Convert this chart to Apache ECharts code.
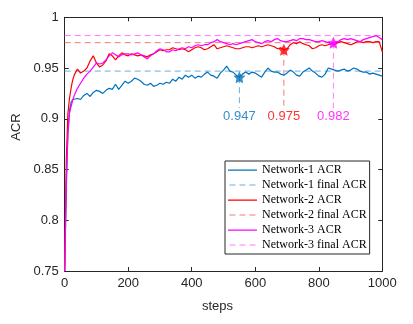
<!DOCTYPE html>
<html>
<head>
<meta charset="utf-8">
<script src="https://cdn.jsdelivr.net/npm/echarts@6/dist/echarts.min.js"></script>
<style>html,body{margin:0;padding:0;background:#fff}#c{width:413px;height:324px}</style>
</head>
<body>
<div id="c"></div>
<script>
var steps = [0,5,10,15,20,25,30,40,50,60,70,80,90,100,110,120,130,140,150,160,170,180,190,200,210,220,230,240,250,260,270,280,290,300,310,320,330,340,350,360,370,380,390,400,410,420,430,440,450,460,470,480,490,500,510,520,530,540,550,560,570,580,590,600,610,620,630,640,650,660,670,680,690,700,710,720,730,740,750,760,770,780,790,800,810,820,830,840,850,860,870,880,890,900,910,920,930,940,950,960,970,980,990,1000];
var net1 = [0.75,0.83,0.885,0.908,0.916,0.919,0.918,0.920,0.919,0.923,0.925,0.922,0.926,0.928,0.927,0.925,0.928,0.930,0.929,0.934,0.929,0.933,0.937,0.935,0.937,0.940,0.939,0.937,0.934,0.933,0.935,0.932,0.933,0.935,0.934,0.936,0.935,0.939,0.937,0.941,0.939,0.943,0.941,0.943,0.940,0.942,0.941,0.944,0.946,0.943,0.942,0.940,0.945,0.948,0.952,0.947,0.946,0.943,0.941,0.944,0.946,0.944,0.946,0.945,0.943,0.941,0.946,0.950,0.947,0.946,0.946,0.944,0.943,0.945,0.948,0.946,0.943,0.942,0.946,0.948,0.950,0.947,0.945,0.942,0.941,0.944,0.950,0.949,0.948,0.947,0.948,0.949,0.947,0.948,0.950,0.949,0.947,0.946,0.946,0.944,0.945,0.944,0.943,0.942];
var net2 = [0.75,0.86,0.905,0.92,0.93,0.938,0.943,0.949,0.945,0.947,0.950,0.957,0.962,0.955,0.951,0.953,0.957,0.964,0.962,0.958,0.962,0.965,0.963,0.962,0.964,0.963,0.962,0.963,0.962,0.961,0.963,0.964,0.966,0.968,0.967,0.968,0.968,0.970,0.969,0.968,0.969,0.968,0.966,0.968,0.970,0.971,0.970,0.968,0.969,0.971,0.973,0.969,0.970,0.971,0.972,0.971,0.970,0.969,0.969,0.970,0.971,0.971,0.970,0.971,0.972,0.971,0.972,0.973,0.972,0.971,0.969,0.970,0.968,0.969,0.973,0.975,0.974,0.976,0.974,0.973,0.972,0.969,0.970,0.972,0.973,0.972,0.973,0.974,0.973,0.975,0.976,0.975,0.974,0.973,0.974,0.976,0.976,0.975,0.976,0.976,0.975,0.976,0.976,0.966];
var net3 = [0.75,0.84,0.885,0.905,0.912,0.918,0.923,0.930,0.935,0.940,0.944,0.947,0.951,0.955,0.954,0.955,0.958,0.962,0.965,0.963,0.961,0.963,0.964,0.964,0.963,0.964,0.965,0.963,0.961,0.959,0.962,0.964,0.967,0.969,0.968,0.966,0.966,0.968,0.967,0.969,0.970,0.969,0.971,0.970,0.972,0.973,0.972,0.973,0.973,0.975,0.976,0.978,0.976,0.975,0.974,0.973,0.974,0.973,0.974,0.975,0.976,0.977,0.978,0.976,0.975,0.974,0.976,0.977,0.976,0.978,0.979,0.977,0.976,0.976,0.977,0.978,0.977,0.979,0.979,0.978,0.978,0.977,0.976,0.976,0.977,0.976,0.975,0.974,0.975,0.976,0.978,0.979,0.978,0.979,0.978,0.977,0.976,0.978,0.979,0.980,0.981,0.982,0.980,0.978];
var finalACR = [0.947, 0.975, 0.982];
var markerSteps = [550, 690, 846];
var markerValues = [0.941, 0.968, 0.975];
var labelTexts = ['0.947', '0.975', '0.982'];
var dropEnd = 0.9105;
var labelY = 0.9025;
var names = ['Network-1 ACR','Network-1 final ACR','Network-2 ACR','Network-2 final ACR','Network-3 ACR','Network-3 final ACR'];
var xTicks = [0, 200, 400, 600, 800, 1000];
var yTicks = [0.75, 0.8, 0.85, 0.9, 0.95, 1];

var mainColors = ['#0072BD', '#FF0000', '#FF00FF'];
var lightColors = ['#6AAFE0', '#F07A7A', '#FF7BFF'];
var star = 'path://M0,-10 L2.9,-4 9.5,-3.1 4.7,1.6 5.9,8.1 0,5.1 -5.9,8.1 -4.7,1.6 -9.5,-3.1 -2.9,-4Z';
var solidIcon = 'path://M0,0h0.01v0.01h-0.01z M0,5.4h29v1.3h-29z M0,12h0.01v0.01h-0.01z';
var dashIcon = 'path://M0,0h0.01v0.01h-0.01z M0,5.5h6v1h-6z M10,5.5h6v1h-6z M20,5.5h6v1h-6z M0,12h0.01v0.01h-0.01z';
var nets = [net1, net2, net3];

function pairs(xs, ys){ return xs.map(function(x,i){ return [x, ys[i]]; }); }

var series = [];
var legendData = [];
for (var k = 0; k < 3; k++) {
  series.push({
    name: names[2*k], type: 'line', data: pairs(steps, nets[k]),
    showSymbol: false, symbol: 'none', lineStyle: {color: mainColors[k], width: 1.2},
    itemStyle: {color: mainColors[k]}, z: 3 + k
  });
  series.push({
    name: names[2*k+1], type: 'line', data: [[xTicks[0], finalACR[k]], [xTicks[xTicks.length-1], finalACR[k]]],
    showSymbol: false, symbol: 'none', lineStyle: {color: lightColors[k], width: 1, type: [6, 4]},
    itemStyle: {color: lightColors[k]}, z: 2
  });
  legendData.push({name: names[2*k], icon: solidIcon});
  legendData.push({name: names[2*k+1], icon: dashIcon});
}
for (var k = 0; k < 3; k++) {
  series.push({
    type: 'line', data: [[markerSteps[k], markerValues[k]], [markerSteps[k], dropEnd]],
    showSymbol: false, symbol: 'none', lineStyle: {color: lightColors[k], width: 1, type: [6, 4]}, z: 2, silent: true
  });
  series.push({
    type: 'scatter', data: [[markerSteps[k], markerValues[k]]], symbol: star, symbolSize: 12,
    itemStyle: {color: mainColors[k]}, z: 10
  });
  series.push({
    type: 'scatter', data: [[markerSteps[k], labelY]], symbolSize: 0,
    label: {show: true, position: 'inside', formatter: labelTexts[k], color: mainColors[k],
      fontFamily: 'Liberation Sans', fontSize: 13}, z: 10
  });
}

var axisCol = '#262626';
var chart = echarts.init(document.getElementById('c'), null, {renderer: 'canvas'});
chart.setOption({
  animation: false,
  backgroundColor: '#fff',
  grid: {left: 64.7, right: 30.7, top: 17.3, bottom: 53, containLabel: false},
  legend: {
    data: legendData, orient: 'vertical', left: 225, top: 161,
    padding: [3, 3, 3, 3], itemGap: 3, itemWidth: 29, itemHeight: 12,
    backgroundColor: '#fff', borderColor: axisCol, borderWidth: 1,
    textStyle: {fontFamily: 'Liberation Serif', fontSize: 12, color: '#000'}
  },
  xAxis: [{
    type: 'value', min: 0, max: 1000, interval: 200, name: 'steps',
    nameLocation: 'middle', nameGap: 29,
    nameTextStyle: {fontFamily: 'Liberation Sans', fontSize: 13, color: axisCol, padding: [0, 12, 0, 0]},
    axisLine: {show: true, lineStyle: {color: axisCol, width: 1}},
    axisTick: {show: true, inside: true, length: 4, lineStyle: {color: axisCol}},
    axisLabel: {fontFamily: 'Liberation Sans', fontSize: 13, color: axisCol, margin: 6,
      formatter: function(v){ return String(v); }},
    splitLine: {show: false}
  }, {
    type: 'value', min: 0, max: 1000, interval: 200, position: 'top',
    axisLine: {show: true, onZero: false, lineStyle: {color: axisCol, width: 1}},
    axisTick: {show: true, inside: true, length: 4, lineStyle: {color: axisCol}},
    axisLabel: {show: false}, splitLine: {show: false}
  }],
  yAxis: [{
    type: 'value', min: 0.75, max: 1, interval: 0.05, name: 'ACR',
    nameLocation: 'middle', nameGap: 33,
    nameTextStyle: {fontFamily: 'Liberation Sans', fontSize: 13, color: axisCol, padding: [0, 0, 0, 34]},
    axisLine: {show: true, lineStyle: {color: axisCol, width: 1}},
    axisTick: {show: true, inside: true, length: 4, lineStyle: {color: axisCol}},
    axisLabel: {fontFamily: 'Liberation Sans', fontSize: 13, color: axisCol, margin: 6},
    splitLine: {show: false}
  }, {
    type: 'value', min: 0.75, max: 1, interval: 0.05, position: 'right',
    axisLine: {show: true, onZero: false, lineStyle: {color: axisCol, width: 1}},
    axisTick: {show: true, inside: true, length: 4, lineStyle: {color: axisCol}},
    axisLabel: {show: false}, splitLine: {show: false}
  }],
  series: series
});
</script>
</body>
</html>
